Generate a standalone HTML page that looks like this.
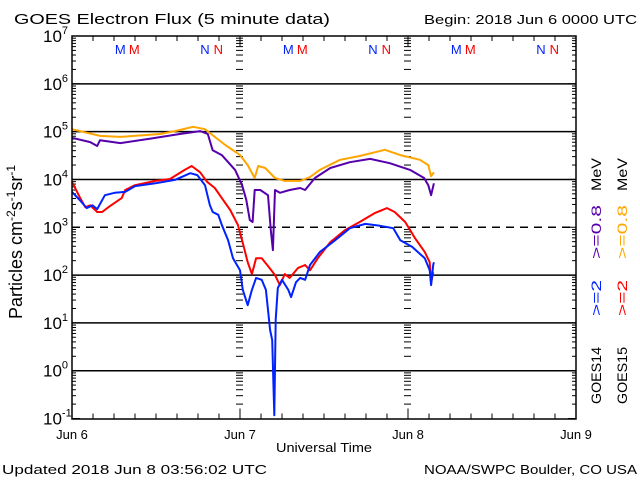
<!DOCTYPE html>
<html><head><meta charset="utf-8"><style>
body{margin:0;background:#fff;}
svg{display:block;font-family:"Liberation Sans","DejaVu Sans",sans-serif;}
</style></head><body>
<svg id="chart" width="640" height="480" viewBox="0 0 640 480">
<rect width="640" height="480" fill="#fff"/>
<text x="14" y="24" font-size="15" textLength="316" lengthAdjust="spacingAndGlyphs">GOES Electron Flux (5 minute data)</text>
<text x="424" y="24" font-size="13" textLength="213" lengthAdjust="spacingAndGlyphs">Begin: 2018 Jun 6 0000 UTC</text>
<text x="2" y="474" font-size="13" textLength="265" lengthAdjust="spacingAndGlyphs">Updated 2018 Jun  8 03:56:02 UTC</text>
<text x="424" y="474" font-size="13" textLength="213" lengthAdjust="spacingAndGlyphs">NOAA/SWPC Boulder, CO USA</text>
<text x="276" y="452" font-size="13" textLength="96" lengthAdjust="spacingAndGlyphs">Universal Time</text>
<text transform="translate(22,242) rotate(-90)" font-size="18" text-anchor="middle">Particles cm<tspan dy="-7" font-size="12">-2</tspan><tspan dy="7">s</tspan><tspan dy="-7" font-size="12">-1</tspan><tspan dy="7">sr</tspan><tspan dy="-7" font-size="12">-1</tspan></text>
<g id="grid"></g><g id="ticks"></g><g id="series"></g><g id="labels"></g>
<rect x="72" y="36" width="504" height="383" fill="none" stroke="#000" stroke-width="1.5"/>
<g font-size="14">
<text transform="translate(601,404) rotate(-90)" textLength="57" lengthAdjust="spacingAndGlyphs" fill="#000">GOES14</text>
<text transform="translate(601,316) rotate(-90)" textLength="36" lengthAdjust="spacingAndGlyphs" fill="#0022ff">&gt;=2</text>
<text transform="translate(601,259) rotate(-90)" textLength="54" lengthAdjust="spacingAndGlyphs" fill="#5500aa">&gt;=0.8</text>
<text transform="translate(601,191) rotate(-90)" textLength="33" lengthAdjust="spacingAndGlyphs" fill="#000">MeV</text>
<text transform="translate(627,404) rotate(-90)" textLength="57" lengthAdjust="spacingAndGlyphs" fill="#000">GOES15</text>
<text transform="translate(627,316) rotate(-90)" textLength="36" lengthAdjust="spacingAndGlyphs" fill="#ff0000">&gt;=2</text>
<text transform="translate(627,259) rotate(-90)" textLength="54" lengthAdjust="spacingAndGlyphs" fill="#ffa500">&gt;=0.8</text>
<text transform="translate(627,191) rotate(-90)" textLength="33" lengthAdjust="spacingAndGlyphs" fill="#000">MeV</text>
</g>
</svg>
<script>
const dayLabels=["Jun 6","Jun 7","Jun 8","Jun 9"];
const decades=[-1,0,1,2,3,4,5,6,7];
// hours since Jun 6 00:00 UTC, and log10 flux
const orangeH=[0,4,6.9,12.6,14.7,17.3,19,20.4,21.9,24,25.1,26.1,26.6,27.6,29,30.4,32.6,34,35.4,38.3,41.1,44.7,46.9,49.7,50.9,51.3,51.7];
const orangeV=[5.05,4.91,4.89,4.95,5.01,5.10,5.05,4.89,4.72,4.51,4.30,4.03,4.28,4.24,4.03,3.97,3.97,4.05,4.20,4.41,4.49,4.62,4.51,4.41,4.30,4.07,4.15];
const purpleH=[0,2.6,3.6,4,6.9,11.1,15.4,18.3,19.4,20.1,21.4,23.3,24.3,24.9,25.4,25.8,26.1,26.9,28,28.4,28.7,29,29.7,31.1,32.6,33.3,34.7,36.9,39.7,42.6,45.4,48.3,50.3,50.9,51.3,51.7];
const purpleV=[4.87,4.78,4.70,4.82,4.76,4.85,4.95,5.01,4.95,4.61,4.51,4.20,3.88,3.57,3.15,3.11,3.78,3.78,3.67,2.94,2.52,3.78,3.72,3.78,3.82,3.78,4.03,4.24,4.36,4.43,4.34,4.20,4.03,3.88,3.67,3.92];
const redH=[0,1.1,1.9,2.6,3.6,4.3,5.4,7.1,7.6,9,11.9,14,16.1,17.1,18.3,19.3,20.4,21.4,22.6,23.7,24.4,25.1,25.7,26.3,27.1,28,29,29.7,30.4,31.1,32.3,33.3,34,35.1,36.9,39,41.1,43.3,45,46.1,47.6,49,50.4,51.1,51.3,51.6];
const redV=[3.95,3.63,3.42,3.46,3.32,3.32,3.44,3.61,3.78,3.88,3.97,4.01,4.20,4.28,4.15,3.95,3.82,3.61,3.36,3.05,2.67,2.27,2.02,2.35,2.35,2.19,2.00,1.79,2.02,1.94,2.15,2.21,2.10,2.35,2.69,2.94,3.11,3.30,3.40,3.32,3.11,2.77,2.48,2.27,1.83,2.06];
const blueH=[0,1.1,2.1,2.9,3.6,4.7,6.1,7.6,9,11.9,14.7,16.9,17.9,19,19.7,20.1,20.9,21.4,22.3,23,24,24.4,25.1,25.7,26.3,27.1,27.7,28.3,28.6,28.9,29.1,29.4,30,30.9,31.3,32,32.6,33.3,34,35.4,37.6,39.7,41.9,44,45.9,46.9,48.6,50.4,51.1,51.3,51.6,51.7];
const blueV=[3.74,3.57,3.40,3.46,3.38,3.67,3.72,3.74,3.86,3.92,3.99,4.13,4.09,3.88,3.46,3.32,3.26,3.05,2.73,2.35,2.10,1.69,1.37,1.69,1.94,1.90,1.69,0.85,0.64,-0.93,1.07,1.73,1.90,1.69,1.54,1.85,1.94,1.90,2.21,2.48,2.73,2.98,3.07,3.03,2.98,2.73,2.59,2.35,2.10,1.79,2.21,2.27];
const markerLabels=["M","M","N","N"];
const markerHours=[6.9,8.9,19,20.9];

const NS="http://www.w3.org/2000/svg";
const X0=72,X1=576,Y0=36,Y1=418.5;
function xs(h){return X0+h*(X1-X0)/72;}
function ys(l){return Y0+(7-l)*(Y1-Y0)/8;}
function mk(tag,attrs,parent){const e=document.createElementNS(NS,tag);for(const k in attrs)e.setAttribute(k,attrs[k]);parent.appendChild(e);return e;}
const grid=document.getElementById('grid'),ticks=document.getElementById('ticks'),series=document.getElementById('series'),labels=document.getElementById('labels');

decades.forEach(d=>{
  if(d>-1&&d<7){
    const l=mk('line',{x1:X0,x2:X1,y1:ys(d),y2:ys(d),stroke:'#000','stroke-width':1.5,'stroke-dasharray':d===3?'8,6':'none'},grid);
    
    
  }
  const t=mk('text',{x:43,y:ys(d)+6,'font-size':17},labels);
  
  
  t.textContent='10';
  const s=mk('tspan',{dy:-8,'font-size':11},t);s.textContent=String(d);
  if(d<7){
    for(let m=1;m<10;m++){
      const y=ys(d+Math.log10(m));
      const len=m===1?8:4;
      mk('line',{x1:X0,x2:X0+len,y1:y,y2:y,stroke:'#000'},ticks);
      mk('line',{x1:X1-len,x2:X1,y1:y,y2:y,stroke:'#000'},ticks);
      [1,2].forEach(di=>{mk('line',{x1:xs(24*di)-(m===1?0:4),x2:xs(24*di)+(m===1?0:3),y1:y,y2:y,stroke:'#000'},ticks);});
    }
  }
});
for(let h=0;h<=72;h+=3){
  const len=h%24===0?10:5;
  mk('line',{x1:xs(h),x2:xs(h),y1:Y1,y2:Y1-len,stroke:'#000'},ticks);
  mk('line',{x1:xs(h),x2:xs(h),y1:Y0,y2:Y0+len,stroke:'#000'},ticks);
}
dayLabels.forEach((d,i)=>{
  const t=mk('text',{x:xs(24*i),y:439,'font-size':13,'text-anchor':'middle'},labels);
  
  
  t.textContent=d;
});
[0,1,2].forEach(day=>{
  const cols=['#0022ff','#ff0000','#0022ff','#ff0000'];
  markerLabels.forEach((m,i)=>{
    const t=mk('text',{x:xs(day*24+markerHours[i]),y:54,'font-size':13,fill:cols[i],'text-anchor':'middle'},labels);
    
    
    t.textContent=m;
  });
});
function drawLine(H,V,color,name){
  const d=H.map((h,i)=>(i?'L':'M')+xs(h).toFixed(1)+','+ys(V[i]).toFixed(1)).join(' ');
  const p=mk('path',{d:d,fill:'none',stroke:color,'stroke-width':2,'stroke-linejoin':'round'},series);
  
  
}
drawLine(orangeH,orangeV,'#ffa500','goes15-0.8mev-line');
drawLine(purpleH,purpleV,'#5500aa','goes14-0.8mev-line');
drawLine(redH,redV,'#ff0000','goes15-2mev-line');
drawLine(blueH,blueV,'#0022ff','goes14-2mev-line');
</script>
</body></html>
